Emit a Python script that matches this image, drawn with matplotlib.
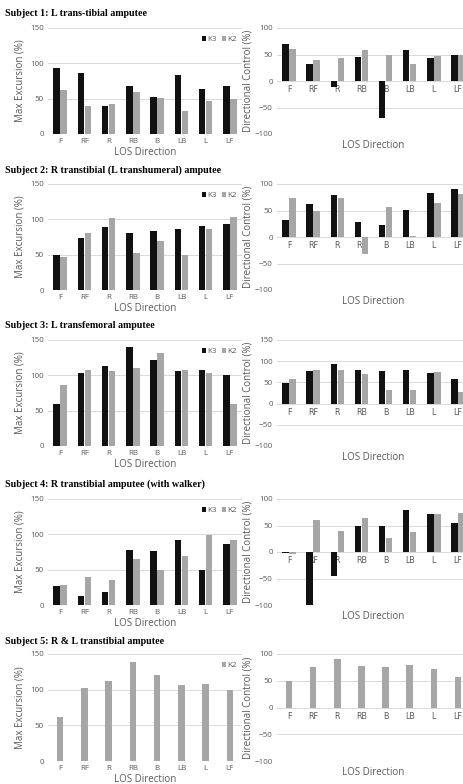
import numpy as np
import matplotlib
matplotlib.use('Agg')
import matplotlib.pyplot as plt

directions = ['F', 'RF', 'R', 'RB', 'B', 'LB', 'L', 'LF']

titles = ['Subject 1: L trans-tibial amputee',
          'Subject 2: R transtibial (L transhumeral) amputee',
          'Subject 3: L transfemoral amputee',
          'Subject 4: R transtibial amputee (with walker)',
          'Subject 5: R & L transtibial amputee']

# max excursion (%)
s1_exc_k3 = [93, 86, 40, 68, 52, 83, 63, 68]
s1_exc_k2 = [62, 39, 43, 60, 51, 33, 46, 50]
s2_exc_k3 = [50, 74, 89, 80, 83, 87, 90, 94]
s2_exc_k2 = [46, 81, 102, 53, 69, 49, 86, 103]
s3_exc_k3 = [60, 103, 113, 140, 121, 106, 108, 100]
s3_exc_k2 = [87, 108, 106, 110, 131, 108, 103, 59]
s4_exc_k3 = [27, 13, 18, 78, 77, 92, 50, 86]
s4_exc_k2 = [28, 39, 35, 65, 50, 70, 99, 92]
s5_exc_k2 = [61, 103, 112, 139, 120, 106, 108, 100]

# directional control (%)
s1_dc_k3 = [69, 33, -12, 45, -70, 58, 44, 50]
s1_dc_k2 = [61, 39, 44, 59, 50, 33, 47, 50]
s2_dc_k3 = [33, 62, 79, 28, 23, 51, 83, 90]
s2_dc_k2 = [73, 49, 74, -32, 57, 1, 64, 82]
s3_dc_k3 = [48, 77, 93, 79, 77, 80, 73, 59]
s3_dc_k2 = [57, 79, 79, 70, 32, 32, 75, 28]
s4_dc_k3 = [-1, -100, -45, 50, 49, 79, 72, 55]
s4_dc_k2 = [-3, 61, 39, 64, 26, 37, 72, 74]
s5_dc_k2 = [49, 75, 91, 78, 75, 79, 72, 57]

exc = [(s1_exc_k3, s1_exc_k2), (s2_exc_k3, s2_exc_k2), (s3_exc_k3, s3_exc_k2),
       (s4_exc_k3, s4_exc_k2), (None, s5_exc_k2)]
dc = [(s1_dc_k3, s1_dc_k2), (s2_dc_k3, s2_dc_k2), (s3_dc_k3, s3_dc_k2),
      (s4_dc_k3, s4_dc_k2), (None, s5_dc_k2)]

W, H = 463, 784
rows_px = [(28, 134), (184, 290), (340, 446), (499, 605), (654, 761)]
title_px = [13, 170, 325, 484, 642]

BLACK = '#111111'
GRAY = '#a6a6a6'
TXT = '#595959'
GRID = '#d9d9d9'
SANS = 'Open Sans'
TICK = 5.8
LAB = 7.0

fig = plt.figure(figsize=(W / 100, H / 100), dpi=100)
x = np.arange(len(directions))
bw = 0.27


def style(ax):
    for s in ax.spines.values():
        s.set_visible(False)
    ax.tick_params(length=0, labelsize=TICK, labelcolor=TXT, pad=3)
    for lab in ax.get_xticklabels() + ax.get_yticklabels():
        lab.set_family(SANS)
    ax.grid(axis='y', color=GRID, linewidth=0.7)
    ax.set_axisbelow(True)


for i in range(5):
    top, bot = rows_px[i]
    fig.text(5 / W, 1 - title_px[i] / H, titles[i], family='Liberation Serif',
             weight='bold', fontsize=7.2, va='center', ha='left')

    # left: max excursion
    axl = fig.add_axes([48 / W, 1 - bot / H, 194 / W, (bot - top) / H])
    k3, k2 = exc[i]
    if k3 is not None:
        axl.bar(x - bw / 2 - 0.01, k3, bw, color=BLACK, label='K3')
        axl.bar(x + bw / 2 + 0.01, k2, bw, color=GRAY, label='K2')
    else:
        axl.bar(x, k2, bw, color=GRAY, label='K2')
    axl.set_xlim(-0.5, 7.5)
    axl.set_ylim(0, 150)
    axl.set_yticks([0, 50, 100, 150])
    axl.set_xticks(x)
    axl.set_xticklabels(directions)
    style(axl)
    axl.set_ylabel('Max Excursion (%)', fontsize=LAB, color=TXT, family=SANS, labelpad=3)
    axl.set_xlabel('LOS Direction', fontsize=LAB, color=TXT, family=SANS, labelpad=1)
    axl.legend(loc='upper right', bbox_to_anchor=(1.0, 0.97), ncol=2, frameon=False,
               handlelength=0.5, handleheight=0.6, handletextpad=0.2,
               columnspacing=0.6, borderaxespad=0.2, labelcolor=TXT,
               prop={'family': SANS, 'size': TICK})

    # right: directional control
    axr = fig.add_axes([277 / W, 1 - bot / H, 193 / W, (bot - top) / H])
    k3, k2 = dc[i]
    if k3 is not None:
        axr.bar(x - bw / 2 - 0.01, k3, bw, color=BLACK)
        axr.bar(x + bw / 2 + 0.01, k2, bw, color=GRAY)
    else:
        axr.bar(x, k2, bw, color=GRAY)
    axr.set_xlim(-0.5, 7.5)
    if i == 2:
        axr.set_ylim(-100, 150)
        axr.set_yticks([-100, -50, 0, 50, 100, 150])
    else:
        axr.set_ylim(-100, 100)
        axr.set_yticks([-100, -50, 0, 50, 100])
    axr.set_xticks(x)
    axr.set_xticklabels(directions)
    style(axr)
    axr.spines['bottom'].set_position(('data', 0))
    axr.set_ylabel('Directional Control (%)', fontsize=LAB, color=TXT, family=SANS, labelpad=1)
    axr.text(0.5, -0.11, 'LOS Direction', transform=axr.transAxes, ha='center', va='center',
             fontsize=LAB, color=TXT, family=SANS)

fig.savefig('out.png', dpi=100)
